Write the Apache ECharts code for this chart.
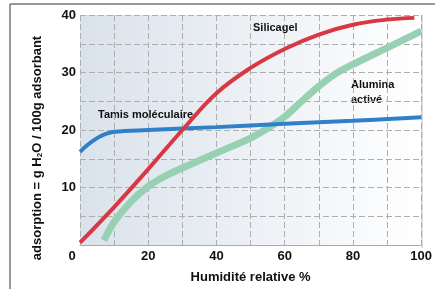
<!DOCTYPE html>
<html lang="fr">
<head>
    <meta charset="UTF-8">
    <title>Isothermes d'adsorption</title>
    <style>
        * { margin: 0; padding: 0; }
        #main { width: 435px; height: 289px; background: #fff; }
    </style>
    <script src="https://cdn.jsdelivr.net/npm/echarts@6/dist/echarts.min.js"></script>
</head>
<body>
<div id="main"></div>
<script>
    // humidité relative (%) / adsorption (g H2O / 100 g)
    var silicagel = [[0, 0.4], [10, 6.6], [20, 13.2], [30, 20], [40, 26.4], [50, 30.8], [60, 34.1],
        [70, 36.6], [80, 38.3], [90, 39.2], [98, 39.5]];
    var tamis = [[0, 16.2], [2, 17.3], [4, 18.2], [6, 18.9], [8, 19.4], [10, 19.7], [20, 20],
        [40, 20.5], [60, 21.1], [80, 21.6], [100, 22.2]];
    var alumina = [[7, 0.8], [10, 4], [15, 7.6], [20, 10.2], [25, 12], [30, 13.4], [40, 16],
        [50, 18.6], [55, 20.3], [60, 22.3], [65, 25], [70, 27.6], [75, 29.8], [80, 31.4],
        [90, 34.3], [100, 37.2]];
    var xTicks = [0, 20, 40, 60, 80, 100];
    var yTicks = [10, 20, 30, 40];

    var myChart = echarts.init(document.getElementById('main'));
    var font = 'Liberation Sans, Arial, sans-serif';
    var labelStyle = { color: '#111', fontWeight: 'bold', fontSize: 13, fontFamily: font };
    var noteStyle = { fill: '#111', fontWeight: 'bold', fontSize: 11, fontFamily: font };
    var gridLine = { color: '#aeaeae', type: [6, 3] };

    var option = {
        animation: false,
        grid: {
            left: 80, right: 13, top: 15, bottom: 41,
            show: true,
            borderWidth: 0,
            backgroundColor: new echarts.graphic.LinearGradient(0, 0, 1, 0, [
                { offset: 0, color: '#dae2eb' },
                { offset: 1, color: '#ffffff' }
            ])
        },
        xAxis: {
            type: 'value', min: 0, max: 100, interval: 10,
            name: 'Humidité relative %', nameLocation: 'middle', nameGap: 26,
            nameTextStyle: labelStyle,
            axisLine: { show: true, lineStyle: { color: '#aaa', width: 1 } },
            axisTick: { show: false },
            splitLine: { show: true, lineStyle: gridLine },
            axisLabel: Object.assign({}, labelStyle, {
                margin: 5,
                formatter: function (v) {
                    if (v === 0) return '{z|0}';
                    return xTicks.indexOf(v) >= 0 ? String(v) : '';
                },
                rich: { z: { fontWeight: 'bold', fontSize: 13, fontFamily: font, color: '#111', padding: [0, 16, 0, 0] } }
            })
        },
        yAxis: {
            type: 'value', min: 0, max: 40, interval: 5,
            axisLine: { show: false },
            axisTick: { show: false },
            splitLine: { show: true, lineStyle: gridLine },
            axisLabel: Object.assign({}, labelStyle, {
                margin: 4,
                formatter: function (v) { return yTicks.indexOf(v) >= 0 ? String(v) : ''; }
            })
        },
        graphic: [
            { type: 'line', shape: { x1: 10, y1: 4, x2: 435, y2: 4 }, style: { stroke: '#777', lineWidth: 1.5 } },
            { type: 'line', shape: { x1: 10, y1: 4, x2: 10, y2: 289 }, style: { stroke: '#777', lineWidth: 1.5 } },
            { type: 'line', shape: { x1: 422, y1: 15, x2: 422, y2: 248 }, style: { stroke: '#bbb', lineWidth: 1 } },
            {
                type: 'text', x: 37, y: 148, rotation: Math.PI / 2,
                style: {
                    text: 'adsorption = g H{sub|2}O / 100g adsorbant',
                    fill: '#111', fontWeight: 'bold', fontSize: 13, fontFamily: font,
                    align: 'center', verticalAlign: 'middle',
                    rich: { sub: { fontSize: 8, fontWeight: 'bold', fontFamily: font, fill: '#111', verticalAlign: 'bottom', padding: [6, 0, 0, 0] } }
                }
            },
            { type: 'text', x: 98, y: 109, style: Object.assign({ text: 'Tamis moléculaire' }, noteStyle) },
            { type: 'text', x: 253, y: 22, style: Object.assign({ text: 'Silicagel' }, noteStyle) },
            { type: 'text', x: 351, y: 77, style: Object.assign({ text: 'Alumina\nactivé', lineHeight: 15 }, noteStyle) }
        ],
        series: [
            {
                name: 'Alumina activé', type: 'line', data: alumina, smooth: 0.3,
                showSymbol: false, lineStyle: { color: '#97d0b2', width: 7 }, z: 2
            },
            {
                name: 'Tamis moléculaire', type: 'line', data: tamis, smooth: 0.4,
                showSymbol: false, lineStyle: { color: '#2f80c8', width: 4 }, z: 3
            },
            {
                name: 'Silicagel', type: 'line', data: silicagel, smooth: 0.4,
                showSymbol: false, lineStyle: { color: '#da3744', width: 4 }, z: 4
            }
        ]
    };

    myChart.setOption(option);
</script>
</body>
</html>
